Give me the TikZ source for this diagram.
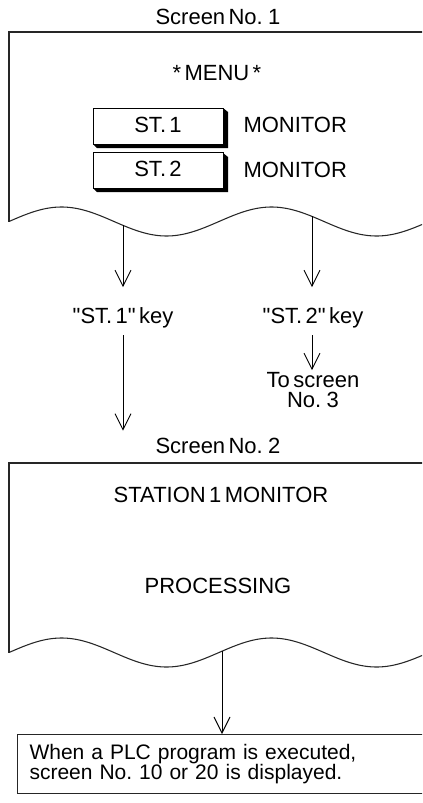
\documentclass[tikz,border=0pt]{standalone}
\usepackage{fontspec}
\setmainfont{Liberation Sans}[Ligatures=TeXOff,WordSpace=0.55]
\usetikzlibrary{arrows.meta}
\begin{document}
\begin{tikzpicture}[x=0.75pt,y=-0.75pt,line width=0.75pt,
  arr/.style={-{Straight Barb[length=12pt,width=12pt,line width=0.7pt]},line width=0.7pt},
  txt/.style={inner sep=0pt,font=\fontsize{16.5pt}{15pt}\selectfont,anchor=base},
  caps/.style={txt},
  btn/.style={draw,fill=white,inner sep=0pt,minimum width=97.5pt,minimum height=27pt,
    text height=11.8pt,text depth=2.8pt,font=\fontsize{16.5pt}{15pt}\selectfont},
  frame/.style={line width=0.8pt,draw=black!85}]
\useasboundingbox (0,0) rectangle (422,803);
\clip (0,0) rectangle (422,803);

% ---------- Screen No. 1 ----------
\node[txt] (s1title) at (218,24) {Screen No. 1};
\draw[frame] plot[domain=9:436,samples=150,smooth] (\x,{221.5-14.5*sin(((\x-9)/210)*360)});
\draw[frame] (9,221.5) -- (9,32) -- (436,32);
\node[caps] (menu) at (217,80) {* MENU *};

\fill (223,108) -- (228,112) -- (228,148) -- (97,148) -- (93,144) -- cycle;
\node[btn] (b1) at (158,126) {ST. 1};
\node[caps,anchor=base west] (m1) at (243,132) {MONITOR};

\fill (223,153) -- (228,157) -- (228,192) -- (97,192) -- (93,188) -- cycle;
\node[btn] (b2) at (158,170.5) {ST. 2};
\node[caps,anchor=base west] (m2) at (243,177) {MONITOR};

\coordinate (w1a) at (123,225.4);
\coordinate (w1b) at (312,216.4);

\node[txt] (k1) at (123,323) {"ST. 1" key};
\node[txt] (k2) at (313,323) {"ST. 2" key};
\node[inner sep=0pt,font=\fontsize{16.5pt}{15pt}\selectfont,align=center,anchor=north] (to3) at (313,371.5) {To screen\\No. 3};

\draw[arr,shorten >=14.5pt] (w1a) -- (w1a |- k1.north);
\draw[arr,shorten >=14.5pt] (w1b) -- (w1b |- k2.north);
\draw[arr,shorten <=5.5pt,shorten >=1pt] (w1b |- k2.south) -- (w1b |- to3.north);

% ---------- Screen No. 2 ----------
\node[txt] (s2title) at (218,453) {Screen No. 2};
\draw[arr,shorten <=5.5pt,shorten >=4.8pt] (k1.south) -- (k1.south |- s2title.north);

\draw[frame] plot[domain=9:436,samples=150,smooth] (\x,{652.5-14.5*sin(((\x-9)/210)*360)});
\draw[frame] (9,652.5) -- (9,463) -- (436,463);
\node[caps] (st1) at (221,502) {STATION 1 MONITOR};
\node[caps] (proc) at (218,593) {PROCESSING};
\coordinate (w2) at (222,651.2);

% ---------- note ----------
\node[frame,draw,anchor=north west,inner xsep=9pt,inner ysep=0pt,
  minimum height=44.25pt,text width=300pt,align=left,
  font=\fontsize{15.75pt}{14.25pt}\selectfont] (note) at (17,734)
  {When a PLC program is executed,\\screen No.\ 10 or 20 is displayed.};
\draw[arr] (w2) -- (w2 |- note.north);
\end{tikzpicture}
\end{document}
